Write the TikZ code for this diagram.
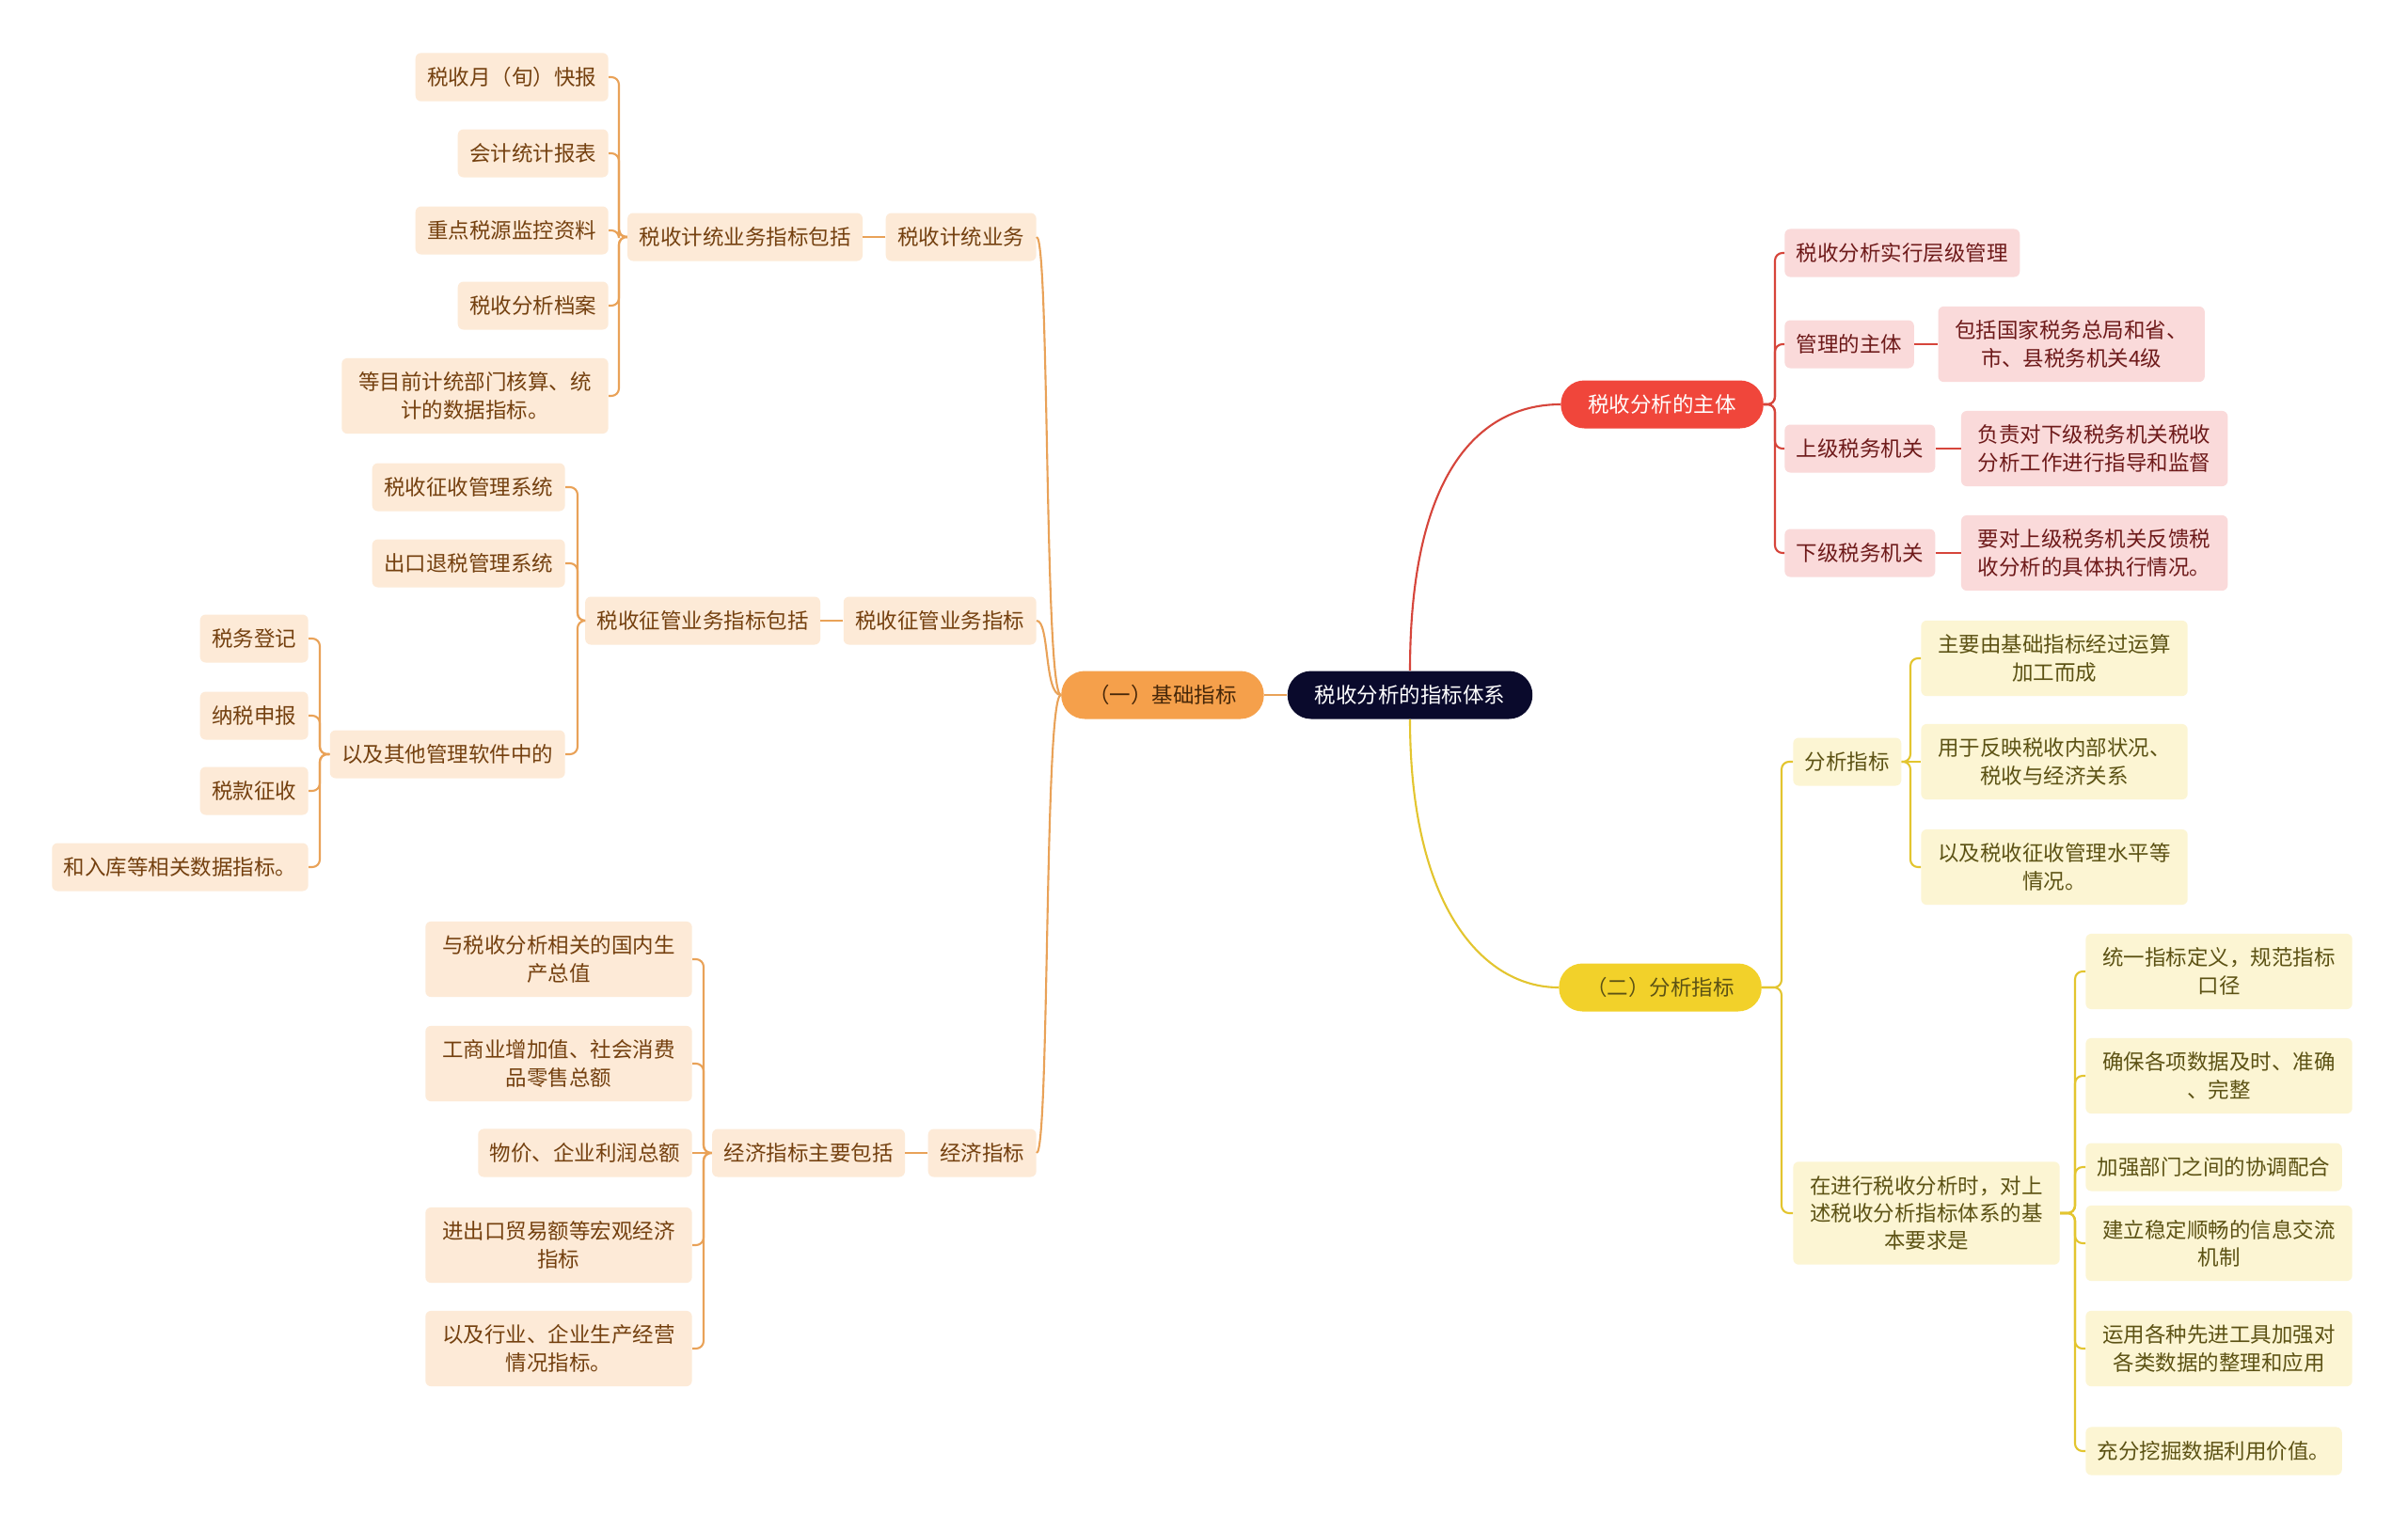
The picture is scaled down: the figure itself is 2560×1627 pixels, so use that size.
\documentclass[tikz,border=0pt]{standalone}
\usepackage{fontspec}
\setmainfont{Noto Sans CJK SC}
\usetikzlibrary{positioning}

\begin{document}
\begin{tikzpicture}[x=0.02cm, y=-0.02cm,
  every node/.style={font=\fontsize{12.8}{16.7}\selectfont, align=center},
  hub/.style={rounded corners=0.5cm, minimum height=1.02cm, inner xsep=0.58cm, inner ysep=0pt},
  leaf/.style={rounded corners=0.12cm, minimum height=1.02cm, inner xsep=0.25cm, inner ysep=0.3cm},
  oneline/.style={},
  wrap/.style={inner xsep=0.36cm},
  oleaf/.style={leaf, fill=oF, text=oT},
  rleaf/.style={leaf, fill=rF, text=rT},
  yleaf/.style={leaf, fill=yF, text=yT},
  link/.style={line width=1.2pt, rounded corners=0.16cm},
  oline/.style={link, draw=oL},
  rline/.style={link, draw=rL},
  yline/.style={link, draw=yL}]

\definecolor{cRoot}{HTML}{0A0A2C}
\definecolor{oM}{HTML}{F5A04B}
\definecolor{oF}{HTML}{FDEAD7}
\definecolor{oT}{HTML}{74400F}
\definecolor{oL}{HTML}{E9A258}
\definecolor{rM}{HTML}{F0463B}
\definecolor{rF}{HTML}{FADADA}
\definecolor{rT}{HTML}{6E1A1A}
\definecolor{rL}{HTML}{D6453B}
\definecolor{yM}{HTML}{F2D12A}
\definecolor{yF}{HTML}{FCF5D3}
\definecolor{yT}{HTML}{5C5214}
\definecolor{yL}{HTML}{E3C52F}

\fill[white] (0,0) rectangle (2560,1627);
\useasboundingbox (0,0) rectangle (2560,1627);

%% root and the three hubs
\node[hub, fill=cRoot, text=white] (root) at (1499,739) {税收分析的指标体系};
\node[hub, fill=oM, text=oT!60!black, anchor=east] (base) at (1344,739) {（一）基础指标};
\node[hub, fill=rM, text=white, anchor=west] (subj) at (1659,430) {税收分析的主体};
\node[hub, fill=yM, text=yT, anchor=west] (anal) at (1657,1050) {（二）分析指标};

\draw[oline] (root.west) -- (base.east);
\draw[rline] (root.north) .. controls +(0,-220) and +(-80,0) .. (subj.west);
\draw[yline] (root.south) .. controls +(0,200) and +(-80,0) .. (anal.west);

%% (一) 基础指标 — three branches
\foreach \nm/\ypos/\txt in {tj/252/税收计统业务, zg/660/税收征管业务指标, jj/1226/经济指标} {
  \node[oleaf, anchor=east] (\nm) at (1102,\ypos) {\txt};
  \draw[oline] (base.west) .. controls +(-18,0) and +(14,0) .. (\nm.east);
}
\node[oleaf, left=0.48cm of tj] (tjb) {税收计统业务指标包括};
\node[oleaf, left=0.48cm of zg] (zgb) {税收征管业务指标包括};
\node[oleaf, left=0.48cm of jj] (jjb) {经济指标主要包括};
\draw[oline] (tj.west) -- (tjb.east);
\draw[oline] (zg.west) -- (zgb.east);
\draw[oline] (jj.west) -- (jjb.east);

%% 税收计统业务指标包括 — five leaves
\foreach \nm/\ypos/\st/\txt in {tj1/82/oneline/{税收月（旬）快报}, tj2/163/oneline/会计统计报表,
    tj3/245/oneline/重点税源监控资料, tj4/325/oneline/税收分析档案,
    tj5/421/wrap/{等目前计统部门核算、统\\计的数据指标。}} {
  \node[oleaf, \st, anchor=east] (\nm) at (647,\ypos) {\txt};
  \draw[oline] (tjb.west) -- (658,252) |- (\nm.east);
}

%% 税收征管业务指标包括 — three leaves
\foreach \nm/\ypos/\txt in {zg1/518/税收征收管理系统, zg2/599/出口退税管理系统, qt/802/以及其他管理软件中的} {
  \node[oleaf, anchor=east] (\nm) at (601,\ypos) {\txt};
  \draw[oline] (zgb.west) -- (614,660) |- (\nm.east);
}

%% 以及其他管理软件中的 — four leaves
\foreach \nm/\ypos/\txt in {qt1/679/税务登记, qt2/761/纳税申报, qt3/841/税款征收, qt4/922/和入库等相关数据指标。} {
  \node[oleaf, anchor=east] (\nm) at (328,\ypos) {\txt};
  \draw[oline] (qt.west) -- (340,802) |- (\nm.east);
}

%% 经济指标主要包括 — five leaves
\foreach \nm/\ypos/\txt in {jj1/1020/{与税收分析相关的国内生\\产总值}, jj2/1131/{工商业增加值、社会消费\\品零售总额},
    jj4/1324/{进出口贸易额等宏观经济\\指标}, jj5/1434/{以及行业、企业生产经营\\情况指标。}} {
  \node[oleaf, wrap, anchor=east] (\nm) at (736,\ypos) {\txt};
  \draw[oline] (jjb.west) -- (748,1226) |- (\nm.east);
}
\node[oleaf, anchor=east] (jj3) at (736,1226) {物价、企业利润总额};
\draw[oline] (jjb.west) -- (jj3.east);

%% 税收分析的主体 — four leaves
\foreach \nm/\ypos/\txt in {r1/269/税收分析实行层级管理, r2/366/管理的主体, r3/477/上级税务机关, r4/588/下级税务机关} {
  \node[rleaf, anchor=west] (\nm) at (1897,\ypos) {\txt};
  \draw[rline] (subj.east) -- (1887,430) |- (\nm.west);
}
\node[rleaf, wrap, right=0.5cm of r2] (r2a) {包括国家税务总局和省、\\市、县税务机关4级};
\node[rleaf, wrap, right=0.54cm of r3] (r3a) {负责对下级税务机关税收\\分析工作进行指导和监督};
\node[rleaf, wrap, right=0.54cm of r4] (r4a) {要对上级税务机关反馈税\\收分析的具体执行情况。};
\draw[rline] (r2.east) -- (r2a.west);
\draw[rline] (r3.east) -- (r3a.west);
\draw[rline] (r4.east) -- (r4a.west);

%% (二) 分析指标 — two branches
\node[yleaf, anchor=west] (fx) at (1906,810) {分析指标};
\node[yleaf, wrap, anchor=west] (yq) at (1906,1290) {在进行税收分析时，对上\\述税收分析指标体系的基\\本要求是};
\draw[yline] (anal.east) -- (1894,1050) |- (fx.west);
\draw[yline] (anal.east) -- (1894,1050) |- (yq.west);

%% 分析指标 — three leaves
\foreach \nm/\ypos/\txt in {fx1/700/{主要由基础指标经过运算\\加工而成}, fx3/922/{以及税收征收管理水平等\\情况。}} {
  \node[yleaf, wrap, anchor=west] (\nm) at (2042,\ypos) {\txt};
  \draw[yline] (fx.east) -- (2031,810) |- (\nm.west);
}
\node[yleaf, wrap, anchor=west] (fx2) at (2042,810) {用于反映税收内部状况、\\税收与经济关系};
\draw[yline] (fx.east) -- (fx2.west);

%% 基本要求 — six leaves
\foreach \nm/\ypos/\st/\txt in {yq1/1033/wrap/{统一指标定义，规范指标\\口径}, yq2/1144/wrap/{确保各项数据及时、准确\\、完整},
    yq3/1241/oneline/加强部门之间的协调配合, yq4/1322/wrap/{建立稳定顺畅的信息交流\\机制},
    yq5/1434/wrap/{运用各种先进工具加强对\\各类数据的整理和应用}, yq6/1543/oneline/充分挖掘数据利用价值。} {
  \node[yleaf, \st, anchor=west] (\nm) at (2217,\ypos) {\txt};
  \draw[yline] (yq.east) -- (2206,1290) |- (\nm.west);
}

\end{tikzpicture}
\end{document}
